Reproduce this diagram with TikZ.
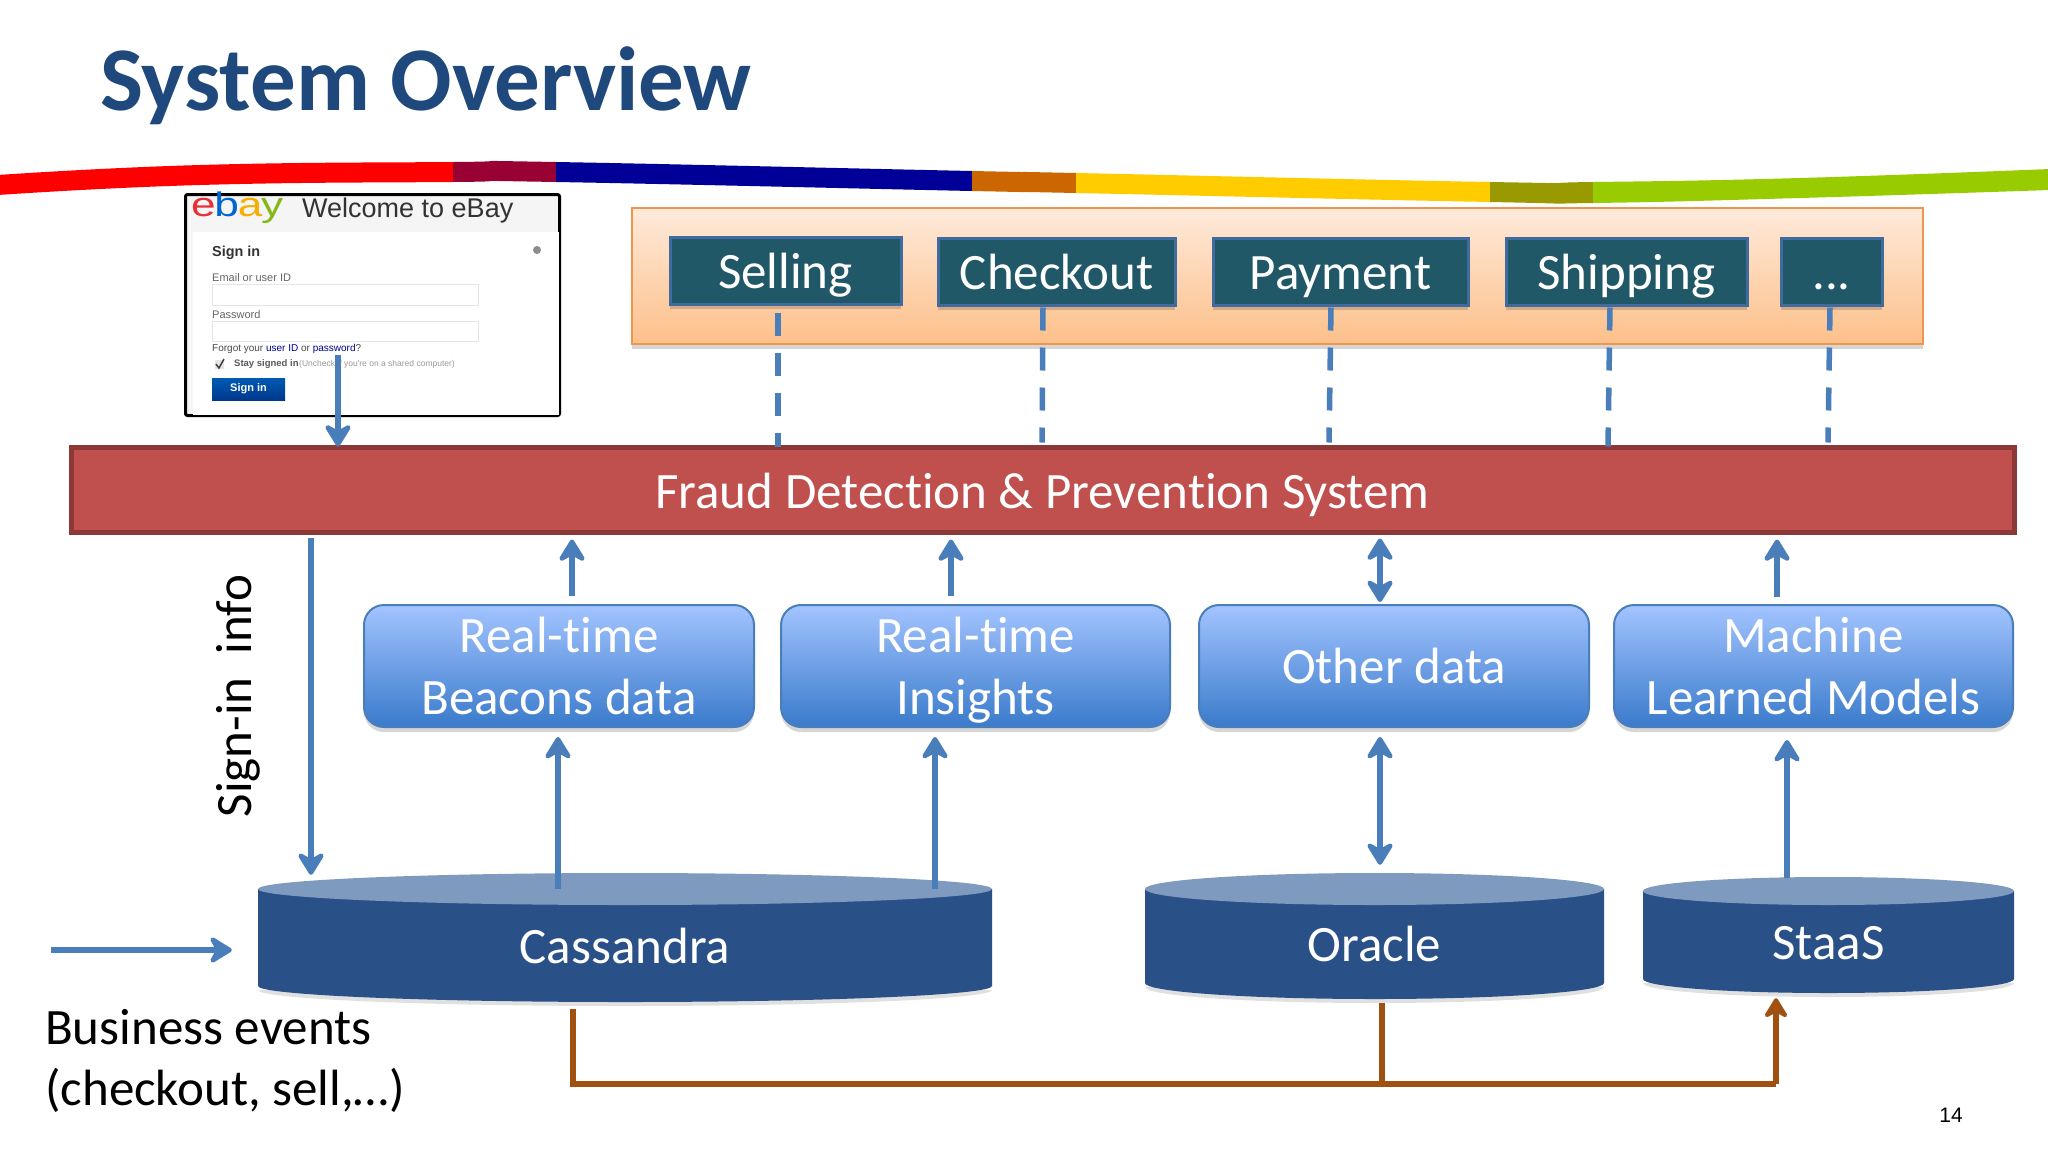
\documentclass[tikz,border=0pt]{standalone}
\usepackage{fontspec}
\setmainfont[Ligatures=NoCommon]{Carlito}
\newfontfamily\arial{Liberation Sans}
\usetikzlibrary{arrows.meta,shadows}
\definecolor{titleblue}{HTML}{1F497D}
\definecolor{arrowblue}{HTML}{4A7EBB}
\definecolor{redfill}{HTML}{C0504D}
\definecolor{redline}{HTML}{8C3836}
\definecolor{teal}{HTML}{215868}
\definecolor{cylbody}{HTML}{2A5088}
\definecolor{cyltop}{HTML}{7F9ABF}
\definecolor{brownline}{HTML}{A0500F}
\definecolor{orangetop}{HTML}{FEEADB}
\definecolor{orangebot}{HTML}{FDC08A}
\definecolor{orangeline}{HTML}{F0954E}
\definecolor{srctop}{HTML}{A3C4FF}
\definecolor{srcmid}{HTML}{83ABEE}
\definecolor{srcbot}{HTML}{3A7BCB}
\newcommand{\fsz}[1]{\fontsize{#1}{#1}\selectfont}
\tikzset{
  softshadow/.style={drop shadow={shadow xshift=0pt,shadow yshift=-5pt,opacity=.16,fill=black}},
  txt/.style={inner sep=0pt,font=\fsz{51},text=white},
  panel/.style={draw=orangeline,line width=2.5pt,top color=orangetop,bottom color=orangebot,inner sep=0pt,softshadow},
  teal box/.style={draw=arrowblue!85!black,line width=3pt,fill=teal,minimum height=67,txt,text height=44pt,text depth=8pt,softshadow},
  redbar/.style={draw=redline,line width=5pt,fill=redfill,inner sep=0pt,txt,text height=46pt,text depth=8pt},
  source/.style={rounded corners=20pt,draw=arrowblue,line width=2pt,top color=srctop,middle color=srcmid,bottom color=srcbot,minimum height=122,align=center,txt,softshadow},
  cyltext/.style={txt},
  tipb/.tip={Stealth[length=27pt,width=33pt,inset=9pt,round]},
  arrowline/.style={draw=arrowblue,fill=arrowblue,line width=5.5pt,-tipb},
  biarrow/.style={draw=arrowblue,fill=arrowblue,line width=5.5pt,tipb-tipb},
  dashline/.style={draw=arrowblue,line width=5.5pt,dash pattern=on 23pt off 17pt},
  brown/.style={draw=brownline,line width=5.5pt},
  browntip/.style={draw=brownline,line width=5.5pt,-{Stealth[length=24pt,width=29pt,inset=8pt,round]}},
  bigtext/.style={inner sep=0pt,font=\fsz{51},text=black},
  shot/.style={inner sep=0pt,anchor=west,font=\arial},
}
\newcommand{\cyl}[6]{% name, left, right, ellipse centre y, bottom y at sides, ry
  \pgfmathsetmacro{\rx}{(#3-#2)/2}
  \fill[black,opacity=.12] (#2,#5+4) arc[start angle=180,end angle=360,x radius=\rx pt,y radius=#6 pt] -- cycle;
  \fill[cylbody] (#2,#4) -- (#2,#5) arc[start angle=180,end angle=360,x radius=\rx pt,y radius=#6 pt] -- (#3,#4) -- cycle;
  \fill[cyltop] ({(#2+#3)/2},#4) ellipse[x radius=\rx pt,y radius=#6 pt];
}
\begin{document}
\begin{tikzpicture}[x=1pt,y=-1pt]
\useasboundingbox (0,0) rectangle (2048,1152);
\fill[white] (0,0) rectangle (2048,1152);
% title
\node[anchor=base west,inner sep=0pt,font=\fsz{91}\bfseries,text=titleblue] (title) at (100,110) {System Overview};
% swoosh
\begin{scope}
\clip plot[smooth,tension=.8] coordinates {(-2,175) (200,165) (453,162) (556,162) (972,171) (1076,173) (1490,182) (1593,182) (1800,178) (2050,169)}
  -- plot[smooth,tension=.8] coordinates {(2050,190) (1800,198) (1593,203) (1490,202) (1076,193) (972,191) (556,182) (453,182) (200,185) (-2,195)} -- cycle;
\fill[red] (-2,150) rectangle (453,210);
\fill[fill={rgb,255:red,153;green,0;blue,51}] (453,150) rectangle (556,210);
\fill[fill={rgb,255:red,0;green,0;blue,153}] (556,150) rectangle (972,210);
\fill[fill={rgb,255:red,204;green,102;blue,0}] (972,150) rectangle (1076,210);
\fill[fill={rgb,255:red,255;green,204;blue,0}] (1076,150) rectangle (1490,210);
\fill[fill={rgb,255:red,153;green,153;blue,0}] (1490,150) rectangle (1593,210);
\fill[fill={rgb,255:red,153;green,204;blue,0}] (1593,150) rectangle (2050,210);
\end{scope}
% sign-in screenshot
\node[draw=black,line width=3pt,fill=black!4,minimum width=374,minimum height=221,inner sep=0pt,rounded corners=2pt] (login) at (372.5,305) {};
\fill[white] (193,232) rectangle (559,415);
\node[inner sep=0pt,anchor=base west,font=\arial\fsz{34}] (logo) at (191,216) {\scalebox{1.3}[1]{\textcolor[HTML]{E53238}{e}\kern-1pt\textcolor[HTML]{0064D2}{b}\kern-1pt\textcolor[HTML]{F5AF02}{a}\kern-1pt\textcolor[HTML]{86B817}{y}}};
\node[shot,font=\arial\fsz{27},text=black!80] (welcome) at (302,211) {Welcome to eBay};
\node[shot,font=\arial\bfseries\fsz{14.4},text=black!80] (signhead) at (212,253) {Sign in};
\fill[black!45] (537,250) circle (4);
\node[shot,font=\arial\fsz{11},text=black!60] (emaillab) at (212,278) {Email or user ID};
\draw[black!10,line width=1pt] (212,284) rectangle (478,305);
\node[shot,font=\arial\fsz{11},text=black!60] (passlab) at (212,315) {Password};
\draw[black!10,line width=1pt] (212,321) rectangle (478,341);
\node[shot,font=\arial\fsz{10},text=black!70] (forgot) at (212,349) {Forgot your \textcolor{blue!60!black}{user ID} or \textcolor{blue!60!black}{password}?};
\fill[black!10] (215,360) rectangle (224,369);
\draw[black!75,line width=1.5pt] (216,364) -- (219,368) -- (224,359);
\node[shot,font=\arial\bfseries\fsz{9.5},text=black!65] (stay) at (234,364) {Stay signed in};
\node[shot,font=\arial\fsz{8.5},text=black!40] (uncheck) at (299,364) {(Uncheck if you're on a shared computer)};
\node[inner sep=0pt,minimum width=73,minimum height=22,top color=blue!50!cyan!70!black,bottom color=blue!60!cyan!55!black,font=\arial\bfseries\fsz{11},text=white] (signbtn) at (248.5,389) {Sign in};
% service panel
\node[panel,minimum width=1291,minimum height=136] (panel) at (1277.5,276) {};
\node[teal box,minimum width=231] (selling) at (785.5,270.5) {Selling};
\node[teal box,minimum width=237] (checkout) at (1056.5,271.5) {Checkout};
\node[teal box,minimum width=255] (payment) at (1340.5,271.5) {Payment};
\node[teal box,minimum width=241] (shipping) at (1626.5,271.5) {Shipping};
\node[teal box,minimum width=101] (dots) at (1831.5,271.5) {...};
% red bar
\node[redbar,minimum width=1943,minimum height=85] (fraud) at (1042.5,489.5) {Fraud Detection \& Prevention System};
% data sources
\node[source,minimum width=390] (beacons) at (559,666) {Real-time\\[11pt]Beacons data};
\node[source,minimum width=389] (insights) at (975.5,666) {Real-time\\[11pt]\raisebox{0pt}[\height][0pt]{Insights}};
\node[source,minimum width=390] (other) at (1394,666) {Other data};
\node[source,minimum width=399] (models) at (1813.5,666) {Machine\\[11pt]Learned Models};
% cylinders
\cyl{cass}{258}{992}{889}{986}{16}
\cyl{orc}{1145}{1604}{889}{983}{16}
\cyl{sta}{1643}{2014}{891}{979}{14}
\node[cyltext,minimum width=734,minimum height=113] (cass) at (625,945.5) {Cassandra};
\node[cyltext,minimum width=459,minimum height=110] (oracle) at (1374.5,944) {Oracle};
\node[cyltext,minimum width=371,minimum height=102] (staas) at (1828.5,943) {StaaS};
% labels
\node[bigtext,rotate=90] (signinfo) at (238,696) {Sign-in\ \ info};
\node[bigtext,anchor=base west] (biz1) at (45,1044) {Business events};
\node[bigtext,anchor=base west] (biz2) at (45,1105) {(checkout, sell,\dots)};
\node[inner sep=0pt,font=\arial\fsz{21},text=black] (pagenum) at (1951,1115) {14};
\coordinate (evstart) at (51,950);
\coordinate (bjoin) at (1776,1084);
% dashed links
\draw[dashline] ([xshift=-7.5pt,yshift=-7pt]selling.south) -- ([xshift=-264.5pt,yshift=-2pt]fraud.north);
\draw[dashline] ([xshift=-13.5pt,yshift=-1pt]checkout.south) -- ([xshift=-.5pt,yshift=2pt]fraud.north);
\draw[dashline] ([xshift=-9.5pt,yshift=-1pt]payment.south) -- ([xshift=286.5pt,yshift=2pt]fraud.north);
\draw[dashline] ([xshift=-16.5pt,yshift=-1pt]shipping.south) -- ([xshift=565.5pt,yshift=-2pt]fraud.north);
\draw[dashline] ([xshift=-1.5pt,yshift=-1pt]dots.south) -- ([xshift=785.5pt,yshift=2pt]fraud.north);
% arrows
\draw[arrowline] ([xshift=-34.5pt,yshift=-50pt]login.center) -- ([xshift=-704.5pt,yshift=-2pt]fraud.north);
\draw[arrowline] ([xshift=-731.5pt,yshift=-3pt]fraud.south) -- ([xshift=-314pt,yshift=14pt]cass.north);
\draw[arrowline] ([xshift=13pt,yshift=8pt]beacons.north) -- ([xshift=-470.5pt,yshift=-5pt]fraud.south);
\draw[arrowline] ([xshift=-24.5pt,yshift=8pt]insights.north) -- ([xshift=-91.5pt,yshift=-5pt]fraud.south);
\draw[biarrow] ([xshift=-14pt,yshift=2pt]other.north) -- ([xshift=337.5pt,yshift=-4pt]fraud.south);
\draw[arrowline] ([xshift=-36.5pt,yshift=7pt]models.north) -- ([xshift=734.5pt,yshift=-5pt]fraud.south);
\draw[arrowline] ([xshift=-67pt]cass.north) -- ([xshift=-1pt,yshift=-9pt]beacons.south);
\draw[arrowline] ([xshift=310pt]cass.north) -- ([xshift=-40.5pt,yshift=-9pt]insights.south);
\draw[biarrow] ([xshift=5.5pt,yshift=24pt]oracle.north) -- ([xshift=-14pt,yshift=-9pt]other.south);
\draw[arrowline] ([xshift=-41.5pt,yshift=14pt]staas.north) -- ([xshift=-26.5pt,yshift=-12pt]models.south);
\draw[arrowline] (evstart) -- ([xshift=-26pt,yshift=-4.5pt]cass.west);
% brown bus
\coordinate (obranch) at ([xshift=7.5pt,yshift=-4pt]oracle.south);
\draw[brown] ([xshift=-52pt,yshift=-7pt]cass.south) |- (bjoin);
\draw[brown] (obranch) -- (obranch |- bjoin);
\draw[browntip] (bjoin) -- ([xshift=-52.5pt,yshift=-4pt]staas.south);
\end{tikzpicture}
\end{document}
